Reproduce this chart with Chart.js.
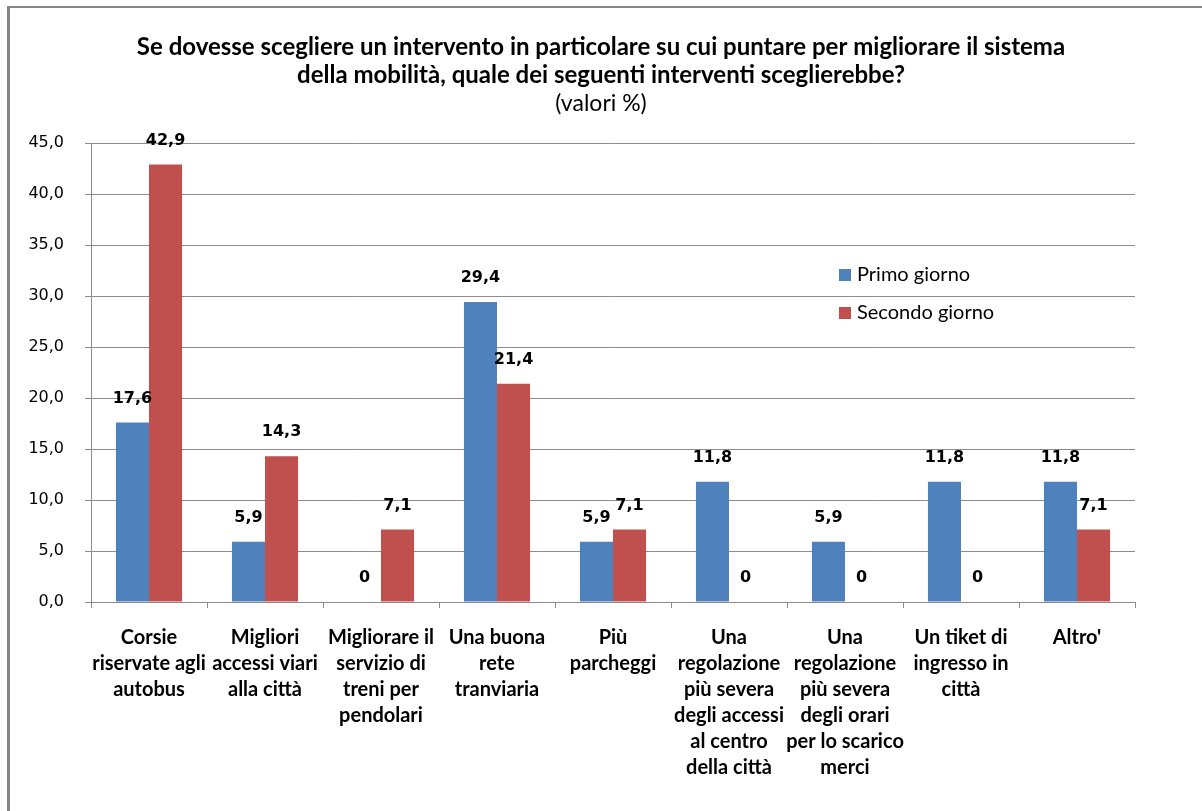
<!DOCTYPE html>
<html>
<head>
<meta charset="utf-8">
<title>Interventi mobilità</title>
<script src="https://cdn.jsdelivr.net/npm/chart.js@4"></script>
<style>
    html, body { margin: 0; padding: 0; background: #fff; }
    #wrap { position: relative; width: 1202px; height: 811px; overflow: hidden; }
    #frame { position: absolute; left: 7px; top: 6px; right: -10px; bottom: -10px;
             border-left: 3px solid #858585; border-top: 2px solid #858585; }
    canvas { position: absolute; left: 0; top: 0; }
</style>
</head>
<body>
<div id="wrap">
    <div id="frame"></div>
    <canvas id="myChart" width="1202" height="811"></canvas>
</div>
<script>
const ctx = document.getElementById('myChart');

// Categories (already split on lines, like the wrapped axis labels)
const categories = [
    ['Corsie', 'riservate agli', 'autobus'],
    ['Migliori', 'accessi viari', 'alla città'],
    ['Migliorare il', 'servizio di', 'treni per', 'pendolari'],
    ['Una buona', 'rete', 'tranviaria'],
    ['Più', 'parcheggi'],
    ['Una', 'regolazione', 'più severa', 'degli accessi', 'al centro', 'della città'],
    ['Una', 'regolazione', 'più severa', 'degli orari', 'per lo scarico', 'merci'],
    ['Un tiket di', 'ingresso in', 'città'],
    ["Altro'"]
];

// Percent values
const primoGiorno = [17.6, 5.9, 0, 29.4, 5.9, 11.8, 5.9, 11.8, 11.8];
const secondoGiorno = [42.9, 14.3, 7.1, 21.4, 7.1, 0, 0, 0, 7.1];

const seriesNames = ['Primo giorno', 'Secondo giorno'];
const yMin = 0;
const yMax = 45;
const yStep = 5;

const blue = '#4F81BD';
const red = '#C0504D';
const gridCol = '#8C8C8C';

// italian style number: 42,9  (zeros just "0")
function fmt(v, keepZero) {
    if (v === 0 && !keepZero) return '0';
    return v.toFixed(1).replace('.', ',');
}

// value above each bar
const valueLabels = {
    id: 'valueLabels',
    afterDatasetsDraw(chart) {
        const c = chart.ctx;
        c.save();
        c.font = 'bold 16px "DejaVu Sans"';
        c.fillStyle = '#000';
        c.textAlign = 'center';
        c.textBaseline = 'middle';
        chart.data.datasets.forEach((ds, i) => {
            chart.getDatasetMeta(i).data.forEach((bar, j) => {
                c.fillText(fmt(ds.data[j]), bar.x, bar.y - 24);
            });
        });
        c.restore();
    }
};

// legend sits inside the plot, right side
const innerLegend = {
    id: 'innerLegend',
    afterDraw(chart) {
        const c = chart.ctx;
        const a = chart.chartArea;
        const x = a.right - 296;
        let y = a.top + 132;
        c.save();
        c.font = '20px Lato';
        c.textBaseline = 'middle';
        chart.data.datasets.forEach(ds => {
            c.fillStyle = ds.backgroundColor;
            c.fillRect(x, y - 6, 12, 12);
            c.fillStyle = '#000';
            c.fillText(ds.label, x + 18, y);
            y += 38;
        });
        c.restore();
    }
};

// title + subtitle centred over the whole canvas, not the padded box
const centreHeading = {
    id: 'centreHeading',
    afterLayout(chart) {
        chart.boxes.forEach(b => {
            if (b.position === 'top') {
                b.left = 0;
                b.right = chart.width;
                b.width = chart.width;
            }
        });
    }
};

let records = {
    labels: categories,
    datasets: [{
        label: seriesNames[0],
        data: primoGiorno,
        backgroundColor: blue
    }, {
        label: seriesNames[1],
        data: secondoGiorno,
        backgroundColor: red
    }]
};

let options = {
    responsive: false,
    animation: false,
    layout: { padding: { left: 29, right: 67, top: 0, bottom: 0 } },
    datasets: {
        bar: { categoryPercentage: 0.57, barPercentage: 1.0 }
    },
    scales: {
        x: {
            grid: { drawOnChartArea: false, drawTicks: true, tickLength: 6, offset: true, color: gridCol },
            border: { color: gridCol },
            ticks: {
                color: '#000',
                padding: 17,
                maxRotation: 0,
                autoSkip: false,
                font: { family: 'Lato', size: 20, weight: 'bold', lineHeight: 26 / 20 }
            },
            afterFit(scale) {
                scale.height = 209;
                // labels are centred in their slots, no side overflow
                scale.paddingLeft = 0;
                scale.paddingRight = 0;
            }
        },
        y: {
            min: yMin,
            max: yMax,
            grid: { color: gridCol, tickLength: 6 },
            border: { color: gridCol },
            ticks: {
                stepSize: yStep,
                color: '#000',
                padding: 21,
                font: { family: 'DejaVu Sans', size: 16 },
                callback: v => fmt(v, true)
            },
            afterFit(scale) { scale.width = 62; }
        }
    },
    plugins: {
        legend: { display: false },
        tooltip: { enabled: false },
        title: {
            display: true,
            text: ['Se dovesse scegliere un intervento in particolare su cui puntare per migliorare il sistema',
                   'della mobilità, quale dei seguenti interventi sceglierebbe?'],
            color: '#000',
            font: { family: 'Lato', size: 24, weight: 'bold', lineHeight: 28 / 24 },
            padding: { top: 33, bottom: 0 }
        },
        subtitle: {
            display: true,
            text: '(valori %)',
            color: '#000',
            font: { family: 'Lato', size: 23, weight: 'normal', lineHeight: 28 / 23 },
            padding: { top: 1, bottom: 25 }
        }
    }
};

const myChart = new Chart(ctx, {
    type: 'bar',
    data: records,
    options: options,
    plugins: [valueLabels, innerLegend, centreHeading]
});
</script>
</body>
</html>
